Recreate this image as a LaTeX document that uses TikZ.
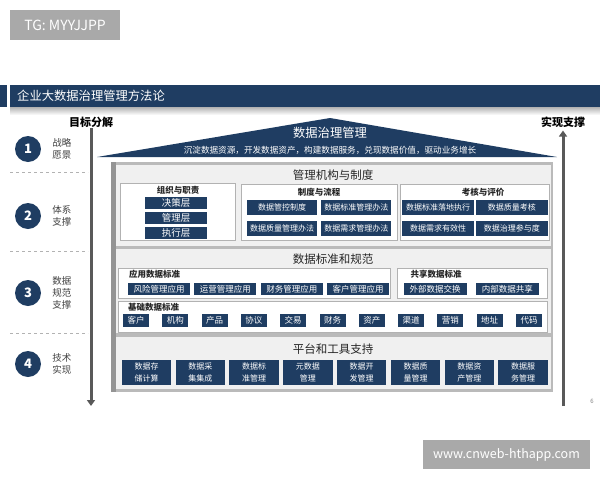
\documentclass[tikz,border=0pt]{standalone}
\usepackage{fontspec}
\setmainfont{Noto Sans CJK SC}
\setsansfont{Noto Sans CJK SC}
\usetikzlibrary{positioning,arrows.meta}
\definecolor{navy}{HTML}{1F3D62}
\definecolor{wmgray}{HTML}{A9A9A9}
\tikzset{
	btn/.style={fill=navy, text=white, inner sep=0pt, align=center},
	orgbtn/.style={btn, minimum width=62, minimum height=12, font=\fontsize{9.5}{10}\selectfont},
	rulebtn/.style={btn, minimum width=70, minimum height=15, font=\fontsize{8}{9}\selectfont},
	evalbtn/.style={btn, minimum width=72, minimum height=15, font=\fontsize{8}{9}\selectfont},
	appbtn/.style={btn, minimum width=62, minimum height=12, font=\fontsize{8.5}{9}\selectfont},
	basebtn/.style={btn, minimum width=26, minimum height=13, font=\fontsize{8.5}{9}\selectfont},
	platbtn/.style={btn, minimum width=49.5, minimum height=25, font=\fontsize{8}{11.5}\selectfont},
	subbox/.style={draw=black!30, fill=white, line width=0.9pt, inner sep=0pt},
	band/.style={fill=black!6},
	numcirc/.style={circle, fill=navy, text=white, minimum size=26, inner sep=0pt, font=\bfseries\fontsize{13}{13}\selectfont},
	sidelbl/.style={align=center, inner sep=0pt, text=black!75, font=\fontsize{9.5}{12}\selectfont},
	sectitle/.style={text=black!85, font=\fontsize{11.5}{12}\selectfont},
	subttl/.style={text=black!85, inner sep=0pt, font=\bfseries\fontsize{8.5}{9}\selectfont},
	wmark/.style={fill=wmgray, text=white, inner sep=0pt},
	bigarrow/.style={line width=3pt, black!65, -{Triangle[length=6pt,width=8pt]}}
}
\begin{document}
\begin{tikzpicture}[x=1pt,y=-1pt]
	\useasboundingbox (0,0) rectangle (600,480);
	
	\node[wmark, minimum width=110, minimum height=30, font=\fontsize{14}{14}\selectfont] (tg) at (65,25) {TG: MYYJJPP};
	\node[wmark, minimum width=167, minimum height=29, font=\fontsize{12.5}{13}\selectfont] (site) at (506.5,454.5) {www.cnweb-hthapp.com};
	
	% title bar
	\fill[navy] (0,85) rectangle (7,107);
	\shade[top color=black!30, bottom color=white] (10,107) rectangle (600,115);
	\node[fill=navy, minimum width=590, minimum height=22, inner sep=0pt, anchor=north west] (head) at (10,85) {};
	\node[text=white, inner sep=0pt, anchor=west, font=\fontsize{12.3}{13}\selectfont, right=7pt of head.west] (headtxt) {企业大数据治理管理方法论};
	
	% left column
	\node[numcirc] (c1) at (28,149) {1};
	\node[numcirc] (c2) at (28,216) {2};
	\node[numcirc] (c3) at (28,293) {3};
	\node[numcirc] (c4) at (28,364) {4};
	\node[sidelbl, right=11pt of c1] (l1) {战略\\愿景};
	\node[sidelbl, right=11pt of c2] (l2) {体系\\支撑};
	\node[sidelbl, right=11pt of c3] (l3) {数据\\规范\\支撑};
	\node[sidelbl, right=11pt of c4] (l4) {技术\\实现};
	\foreach \y in {172,251,333} \draw[dashed, black!30] (10,\y) -- (88,\y);
	
	\node[font=\bfseries\fontsize{11}{12}\selectfont, inner sep=1pt] (goal) at (91,122) {目标分解};
	\node[font=\bfseries\fontsize{11}{12}\selectfont, inner sep=1pt] (supp) at (563,122) {实现支撑};
	\coordinate (gend) at (91,406);
	\coordinate (send) at (563,406);
	\draw[bigarrow] (goal) -- (gend); %
	\draw[bigarrow, shorten >=2pt] (send) -- (supp); %
	
	% roof
	\fill[navy] (97,157) -- (330,118) -- (557,157) -- cycle;
	\node[text=white, font=\fontsize{12.3}{13}\selectfont] (roof) at (330,133) {数据治理管理};
	\node[text=white, font=\fontsize{8.6}{9}\selectfont] (rooftxt) at (330,150) {沉淀数据资源，开发数据资产，构建数据服务，兑现数据价值，驱动业务增长};
	
	% frame
	\fill[black!27] (111,162) rectangle (553,392);
	\fill[black!42] (111,162) rectangle (116,392);
	\fill[band] (116,165) rectangle (551,246);
	\fill[band] (116,249) rectangle (551,333);
	\fill[band] (116,337) rectangle (551,389);
	
	% management
	\node[sectitle] (mgmt) at (333,175) {管理机构与制度};
	\node[subbox, minimum width=115, minimum height=57] (orgbox) at (177.5,211.5) {};
	\node[subttl] (orgttl) at (178,190) {组织与职责};
	\node[orgbtn] (o1) at (176,203) {决策层};
	\node[orgbtn, below=2.5pt of o1] (o2) {管理层};
	\node[orgbtn, below=2.5pt of o2] (o3) {执行层};
	
	\node[subbox, minimum width=156, minimum height=56] (rulebox) at (319,212) {};
	\node[subttl] (rulettl) at (319,192) {制度与流程};
	\node[rulebtn] (r1) at (282,207.5) {数据管控制度};
	\node[rulebtn, right=4pt of r1] (r2) {数据标准管理办法};
	\node[rulebtn, below=6pt of r1] (r3) {数据质量管理办法};
	\node[rulebtn, right=4pt of r3] (r4) {数据需求管理办法};
	
	\node[subbox, minimum width=149, minimum height=56] (evalbox) at (474.5,212) {};
	\node[subttl] (evalttl) at (483,192) {考核与评价};
	\node[evalbtn] (e1) at (438,207.5) {数据标准落地执行};
	\node[evalbtn, right=1.5pt of e1] (e2) {数据质量考核};
	\node[evalbtn, below=6pt of e1] (e3) {数据需求有效性};
	\node[evalbtn, right=1.5pt of e3] (e4) {数据治理参与度};
	
	% standards
	\node[sectitle] (std) at (333,259) {数据标准和规范};
	\node[subbox, minimum width=272, minimum height=30] (appbox) at (254,283) {};
	\node[subttl, anchor=west] (appttl) at (129,274) {应用数据标准};
	\node[appbtn] (a1) at (159,289) {风险管理应用};
	\node[appbtn, right=4pt of a1] (a2) {运营管理应用};
	\node[appbtn, right=4pt of a2] (a3) {财务管理应用};
	\node[appbtn, right=4pt of a3] (a4) {客户管理应用};
	
	\node[subbox, minimum width=150, minimum height=30] (sharebox) at (472,283) {};
	\node[subttl] (sharettl) at (436,274) {共享数据标准};
	\node[appbtn, minimum width=63] (s1) at (435,289) {外部数据交换};
	\node[appbtn, minimum width=63, right=9pt of s1] (s2) {内部数据共享};
	
	\node[subbox, minimum width=429, minimum height=31] (basebox) at (332.5,316.5) {};
	\node[subttl, anchor=west] (basettl) at (128,307) {基础数据标准};
	\foreach \t [count=\i from 0] in {客户,机构,产品,协议,交易,财务,资产,渠道,营销,地址,代码}
		\node[basebtn] (b\i) at (136+39.3*\i,320.5) {\t};
	
	% platform
	\node[sectitle] (plat) at (333,349) {平台和工具支持};
	\foreach \t [count=\i from 0] in {{数据存\\储计算},{数据采\\集集成},{数据标\\准管理},{元数据\\管理},{数据开\\发管理},{数据质\\量管理},{数据资\\产管理},{数据服\\务管理}}
		\node[platbtn] (p\i) at (146.5+53.8*\i,372.5) {\t};
	
	\node[text=black!50, font=\fontsize{6}{6}\selectfont] (pg) at (592,401) {6};
\end{tikzpicture}
\end{document}
